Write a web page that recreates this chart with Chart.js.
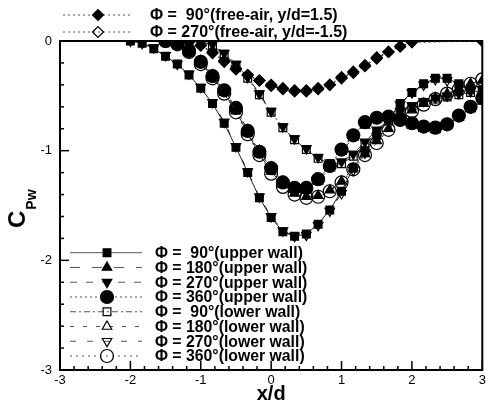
<!DOCTYPE html>
<html><head><meta charset="utf-8">
<script src="https://cdn.jsdelivr.net/npm/chart.js@4"></script>
<style>html,body{margin:0;padding:0;background:#fff}canvas{display:block}</style>
</head><body>
<canvas id="c" width="490" height="406"></canvas>
<script>
const N = null;
const xValues = [-2,-1.833,-1.667,-1.5,-1.333,-1.167,-1,-0.833,-0.667,-0.5,-0.333,-0.167,0,0.167,0.333,0.5,0.667,0.833,1,1.167,1.333,1.5,1.667,1.833,2,2.167,2.333,2.5,2.667,2.833,3];
const xTicks = [-3,-2,-1,0,1,2,3];
const yTicks = [0,-1,-2,-3];

const cp90Free  = [N,N,N,N,0,-0.005,-0.04,-0.11,-0.19,-0.26,-0.31,-0.36,-0.40,-0.43,-0.45,-0.45,-0.43,-0.40,-0.33,-0.29,-0.23,-0.16,-0.10,-0.05,-0.01,N,N,N,N,N,0];
const cp270Free = [N,N,N,N,0,-0.01,-0.04,-0.10,-0.18,-0.25,-0.31,-0.36,-0.41,-0.44,-0.46,-0.46,-0.44,-0.40,-0.34,-0.28,-0.22,-0.15,-0.10,-0.05,-0.01,N,N,N,N,N,0];
const cp90Upper  = [0,-0.02,-0.07,-0.14,-0.21,-0.31,-0.43,-0.57,-0.75,-0.97,-1.20,-1.43,-1.61,-1.74,-1.78,-1.76,-1.67,-1.54,-1.37,-1.16,-1.00,-0.86,-0.71,-0.57,-0.47,-0.39,-0.34,-0.34,-0.39,-0.44,-0.48];
const cp180Upper = [N,N,N,0,-0.03,-0.10,-0.20,-0.33,-0.47,-0.64,-0.84,-1.03,-1.19,-1.31,-1.39,-1.42,-1.41,-1.36,-1.28,-1.16,-1.03,-0.91,-0.80,-0.70,-0.63,-0.57,-0.52,-0.48,-0.43,-0.39,-0.36];
const cp270Upper = [N,N,N,N,N,0,-0.01,-0.03,-0.11,-0.21,-0.33,-0.48,-0.64,-0.78,-0.89,-0.98,-1.06,-1.11,-1.10,-1.03,-0.92,-0.81,-0.72,-0.64,-0.59,-0.55,-0.52,-0.50,-0.48,-0.46,-0.44];
const cp360Upper = [N,N,N,0,-0.02,-0.09,-0.19,-0.32,-0.45,-0.61,-0.82,-1.01,-1.16,-1.29,-1.34,-1.34,-1.26,-1.14,-0.99,-0.86,-0.74,-0.70,-0.69,-0.72,-0.75,-0.78,-0.79,-0.76,-0.68,-0.60,-0.52];
const cp90Lower  = [N,N,N,N,N,0,-0.01,-0.04,-0.12,-0.22,-0.34,-0.49,-0.65,-0.79,-0.90,-0.99,-1.07,-1.12,-1.12,-1.05,-0.94,-0.83,-0.73,-0.65,-0.60,-0.56,-0.53,-0.51,-0.49,-0.47,-0.45];
const cp180Lower = [N,N,N,0,-0.02,-0.08,-0.18,-0.31,-0.45,-0.62,-0.81,-1.00,-1.15,-1.28,-1.35,-1.35,-1.28,-1.16,-1.01,-0.88,-0.77,-0.71,-0.70,-0.73,-0.77,-0.80,-0.81,-0.77,-0.70,-0.62,-0.55];
const cp270Lower = [0,-0.02,-0.06,-0.13,-0.21,-0.30,-0.42,-0.56,-0.74,-0.96,-1.19,-1.42,-1.60,-1.73,-1.78,-1.77,-1.68,-1.55,-1.39,-1.18,-1.02,-0.87,-0.72,-0.58,-0.47,-0.40,-0.35,-0.36,-0.40,-0.45,-0.50];
const cp360Lower = [N,N,N,0,-0.03,-0.10,-0.21,-0.34,-0.48,-0.65,-0.85,-1.04,-1.21,-1.33,-1.40,-1.43,-1.42,-1.37,-1.29,-1.17,-1.04,-0.93,-0.81,-0.71,-0.64,-0.58,-0.53,-0.48,-0.44,-0.39,-0.35];

const FONT = "'Liberation Sans', Arial, Helvetica, sans-serif";
const CLEAR = 'rgba(0,0,0,0)';

function ds(label, values, style, filled, radius, dash, rotation, group, row, span) {
  return {
    label, data: xValues.map((x, i) => ({x, y: values[i]})),
    pointStyle: style, pointRotation: rotation || 0, pointRadius: radius,
    pointBackgroundColor: filled ? '#000' : CLEAR, pointBorderColor: '#000', pointBorderWidth: 1.2,
    borderColor: '#222', borderWidth: 1, borderDash: dash, fill: false, tension: 0,
    spanGaps: !!span, legGroup: group, legRow: row, legFilled: filled
  };
}

const datasets = [
  ds('\u03A6 =  90\u00B0(free-air, y/d=1.5)', cp90Free, 'rectRot', true, 5.5, [2,3], 0, 'top', 0, true),
  ds('\u03A6 = 270\u00B0(free-air, y/d=-1.5)', cp270Free, 'rectRot', false, 5.5, [2,3], 0, 'top', 1, true),
  ds('\u03A6 =  90\u00B0(upper wall)', cp90Upper, 'rect', true, 5.5, [], 0, 'bot', 0),
  ds('\u03A6 = 180\u00B0(upper wall)', cp180Upper, 'triangle', true, 5.5, [10,12], 0, 'bot', 1),
  ds('\u03A6 = 270\u00B0(upper wall)', cp270Upper, 'triangle', true, 5.5, [7,9], 180, 'bot', 2),
  ds('\u03A6 = 360\u00B0(upper wall)', cp360Upper, 'circle', true, 6.5, [2,3], 0, 'bot', 3),
  ds('\u03A6 =  90\u00B0(lower wall)', cp90Lower, 'rect', false, 5.5, [6,3,2,3], 0, 'bot', 4),
  ds('\u03A6 = 180\u00B0(lower wall)', cp180Lower, 'triangle', false, 5.5, [4,9], 0, 'bot', 5),
  ds('\u03A6 = 270\u00B0(lower wall)', cp270Lower, 'triangle', false, 5.5, [6,11], 180, 'bot', 6),
  ds('\u03A6 = 360\u00B0(lower wall)', cp360Lower, 'circle', false, 6.5, [2,4], 0, 'bot', 7)
];

const decor = {
  id: 'decor',
  beforeDatasetsDraw(chart) {
    const {ctx, chartArea: a, scales: {x, y}} = chart;
    ctx.save();
    ctx.strokeStyle = '#000';
    ctx.lineWidth = 2;
    ctx.strokeRect(a.left, a.top, a.right - a.left, a.bottom - a.top);
    ctx.lineWidth = 1.5;
    for (let k = -15; k <= 15; k++) {
      const px = x.getPixelForValue(k / 5);
      const len = (k % 5 === 0) ? 9 : 4;
      ctx.beginPath(); ctx.moveTo(px, a.bottom); ctx.lineTo(px, a.bottom - len); ctx.stroke();
    }
    for (let k = -15; k <= 0; k++) {
      const py = y.getPixelForValue(k / 5);
      const len = (k % 5 === 0) ? 9 : 4;
      ctx.beginPath(); ctx.moveTo(a.left, py); ctx.lineTo(a.left + len, py); ctx.stroke();
    }
    ctx.restore();
  },
  afterDraw(chart) {
    const ctx = chart.ctx;
    const H = Chart.helpers;
    ctx.save();
    chart.data.datasets.forEach(d => {
      const top = d.legGroup === 'top';
      const rowY = top ? 15 + d.legRow * 17 : 252.7 + d.legRow * 14.76;
      const x0 = top ? 63 : 70, x1 = top ? 133 : 142, mx = top ? 98 : 107, tx = top ? 150 : 155;
      ctx.strokeStyle = '#555'; ctx.lineWidth = 1;
      ctx.setLineDash(d.borderDash);
      ctx.beginPath(); ctx.moveTo(x0, rowY); ctx.lineTo(x1, rowY); ctx.stroke();
      ctx.setLineDash([]);
      ctx.fillStyle = d.legFilled ? '#000' : CLEAR;
      ctx.strokeStyle = '#000'; ctx.lineWidth = 1.2;
      H.drawPoint(ctx, {pointStyle: d.pointStyle, rotation: d.pointRotation, radius: d.pointRadius, borderWidth: 1.2}, mx, rowY);
      ctx.fillStyle = '#000';
      ctx.font = 'bold ' + (top ? 16 : 15.8) + 'px ' + FONT;
      ctx.textBaseline = 'middle'; ctx.textAlign = 'left';
      ctx.fillText(d.label, tx, rowY + 1);
    });
    // y-axis title C_Pw (rotated)
    ctx.translate(25, 228);
    ctx.rotate(-Math.PI / 2);
    ctx.textBaseline = 'alphabetic'; ctx.textAlign = 'left';
    ctx.font = 'bold 24px ' + FONT;
    ctx.fillText('C', 0, 0);
    const w = ctx.measureText('C').width;
    ctx.font = 'bold 14px ' + FONT;
    ctx.fillText('Pw', w + 1, 11);
    ctx.restore();
  }
};

new Chart(document.getElementById('c'), {
  type: 'line',
  data: {datasets},
  plugins: [decor],
  options: {
    responsive: false, animation: false, devicePixelRatio: 1,
    layout: {padding: {top: 41, right: 3, left: 0, bottom: 0}},
    plugins: {legend: {display: false}, tooltip: {enabled: false}},
    scales: {
      x: {
        type: 'linear', min: -3, max: 3,
        afterBuildTicks: s => { s.ticks = xTicks.map(v => ({value: v})); },
        afterFit: s => { s.height = 36; },
        grid: {display: false, drawTicks: false}, border: {display: false},
        ticks: {color: '#000', font: {size: 13, family: FONT}, padding: 3, maxRotation: 0, autoSkip: false},
        title: {display: true, text: 'x/d', color: '#000', font: {size: 20, weight: 'bold', family: FONT}, padding: 0}
      },
      y: {
        type: 'linear', min: -3, max: 0,
        afterBuildTicks: s => { s.ticks = yTicks.map(v => ({value: v})); },
        afterFit: s => { s.width = 60; },
        grid: {display: false, drawTicks: false}, border: {display: false},
        ticks: {color: '#000', font: {size: 13, family: FONT}, padding: 8, autoSkip: false}
      }
    }
  }
});
</script>
</body></html>
